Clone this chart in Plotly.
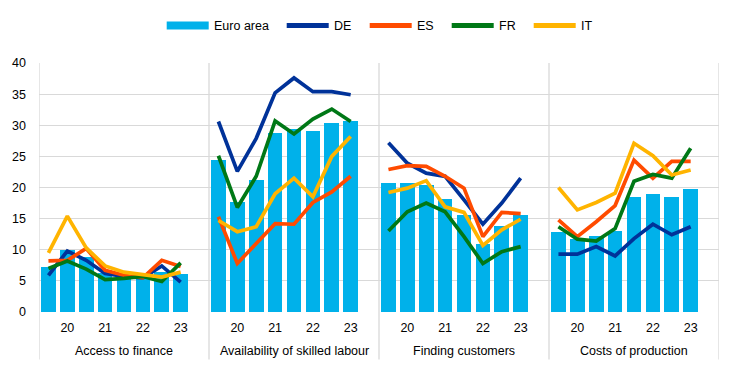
import plotly.graph_objects as go

panels = ["Access to finance", "Availability of skilled labour", "Finding customers", "Costs of production"]
period_ticks = ["20", "21", "22", "23"]

euro_area = [
    [7.3, 9.9, 8.8, 6.3, 5.9, 5.7, 6.5, 6.1],
    [24.4, 17.6, 21.2, 28.8, 29.4, 29.1, 30.4, 30.7],
    [20.8, 20.8, 20.4, 18.2, 15.6, 11.0, 13.8, 15.6],
    [12.9, 11.7, 12.2, 13.0, 18.4, 18.9, 18.4, 19.8],
]
de = [
    [5.9, 9.8, 8.3, 6.2, 5.7, 5.5, 7.4, 4.8],
    [30.6, 22.6, 27.9, 35.2, 37.6, 35.4, 35.4, 34.9],
    [27.2, 23.9, 22.3, 21.8, 18.0, 14.1, 17.5, 21.5],
    [9.3, 9.3, 10.5, 9.0, 11.8, 14.1, 12.4, 13.7],
]
es = [
    [8.2, 8.3, 10.2, 6.7, 5.9, 5.5, 8.3, 7.3],
    [15.3, 7.8, 11.0, 14.2, 14.1, 17.6, 19.3, 21.8],
    [22.9, 23.5, 23.4, 21.8, 19.9, 12.1, 16.0, 15.8],
    [14.8, 12.1, 14.5, 17.1, 24.4, 21.5, 24.2, 24.2],
]
fr = [
    [7.0, 8.2, 6.9, 5.2, 5.4, 5.7, 4.9, 7.9],
    [25.1, 16.8, 21.8, 30.7, 28.6, 31.0, 32.6, 30.6],
    [13.0, 16.1, 17.5, 16.1, 12.1, 7.8, 9.7, 10.5],
    [13.7, 11.7, 11.4, 13.4, 21.0, 22.1, 21.5, 26.3],
]
it = [
    [9.5, 15.4, 10.3, 7.4, 6.4, 6.0, 5.6, 6.4],
    [14.7, 12.9, 13.7, 19.0, 21.5, 18.5, 25.0, 28.2],
    [19.2, 19.9, 21.1, 16.9, 16.0, 10.7, 13.2, 14.9],
    [20.0, 16.4, 17.6, 19.1, 27.1, 25.1, 22.0, 22.8],
]

COL_EA = "#00B1EA"
COL_DE = "#003299"
COL_ES = "#FF4B00"
COL_FR = "#007816"
COL_IT = "#FFB400"

SLOTS = 9  # 8 periods + 1 empty slot per panel
n = len(euro_area[0])

# page body has an 8px margin; size the figure so that it fits the 744x371 window
OFF = 8
W, H = 744 - OFF, 371 - OFF
ML, MT = 39.3 - OFF, 63.3 - OFF
MR = W - (719.3 - OFF)
MB = H - (311.7 - OFF)
PW, PH = W - ML - MR, H - MT - MB

def px_to_paper_x(px):
    return (px - OFF - ML) / PW

def px_to_paper_y(py):
    return (H - MB - (py - OFF)) / PH

def flat_with_gaps(series):
    xs, ys = [], []
    for p, vals in enumerate(series):
        xs.extend([p * SLOTS + i for i in range(n)])
        ys.extend(vals)
        xs.append(None)
        ys.append(None)
    return xs, ys

fig = go.Figure()

bar_x = [p * SLOTS + i for p in range(len(panels)) for i in range(n)]
bar_y = [v for vals in euro_area for v in vals]
fig.add_trace(go.Bar(x=bar_x, y=bar_y, marker=dict(color=COL_EA, line=dict(width=0)),
                     width=0.78, name="Euro area"))

series_list = [("DE", de, COL_DE), ("ES", es, COL_ES), ("FR", fr, COL_FR), ("IT", it, COL_IT)]
for name, series, col in series_list:
    xs, ys = flat_with_gaps(series)
    fig.add_trace(go.Scatter(x=xs, y=ys, mode="lines", name=name, connectgaps=False,
                             line=dict(color=col, width=3.7)))

tickvals, ticktext = [], []
for p in range(len(panels)):
    for k, t in enumerate(period_ticks):
        tickvals.append(p * SLOTS + 1 + 2 * k)
        ticktext.append(t)

shapes = []
for p in range(len(panels) + 1):
    xv = p * SLOTS - 0.5
    shapes.append(dict(type="line", xref="x", yref="paper", x0=xv, x1=xv, y0=px_to_paper_y(359), y1=1,
                       line=dict(color="#D9D9D9", width=1.3), layer="below"))

annotations = []
for p, name in enumerate(panels):
    annotations.append(dict(x=p * SLOTS + 4, y=px_to_paper_y(351), xref="x", yref="paper", text=name,
                            showarrow=False, yanchor="middle", xanchor="center",
                            font=dict(size=12.5, color="#000000")))

# manual legend
legend_items = [("Euro area", COL_EA, 167, 8), ("DE", COL_DE, 287, 5), ("ES", COL_ES, 370, 5),
                ("FR", COL_FR, 452, 5), ("IT", COL_IT, 534, 5)]
ly = px_to_paper_y(26)
for label, col, x0, th in legend_items:
    shapes.append(dict(type="line", xref="paper", yref="paper",
                       x0=px_to_paper_x(x0), x1=px_to_paper_x(x0 + 42), y0=ly, y1=ly,
                       line=dict(color=col, width=th)))
    annotations.append(dict(x=px_to_paper_x(x0 + 45), y=ly, xref="paper", yref="paper", text=label,
                            showarrow=False, xanchor="left", yanchor="middle",
                            font=dict(size=12.5, color="#000000")))

fig.update_layout(
    width=W, height=H,
    margin=dict(l=ML, r=MR, t=MT, b=MB, autoexpand=False),
    paper_bgcolor="white", plot_bgcolor="white",
    font=dict(family="Arial, Liberation Sans, sans-serif", size=12.5, color="#000000"),
    bargap=0,
    showlegend=False,
    xaxis=dict(range=[-0.5, len(panels) * SLOTS - 0.5], tickmode="array", tickvals=tickvals,
               ticktext=ticktext, showgrid=False, zeroline=False, showline=False, ticks="",
               ticklabelstandoff=6, tickfont=dict(size=12.5)),
    yaxis=dict(range=[0, 40], dtick=5, showgrid=True, gridcolor="#D9D9D9", gridwidth=1.3,
               zeroline=False, showline=False, ticks="", tickfont=dict(size=12.5),
               ticklabelstandoff=12),
    shapes=shapes,
    annotations=annotations,
)

fig.write_html("out.html")
